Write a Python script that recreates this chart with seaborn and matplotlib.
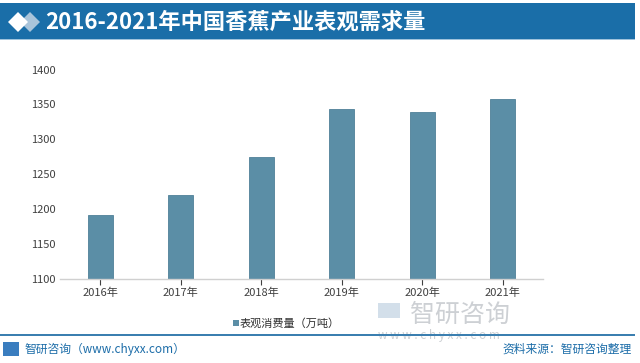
import matplotlib
matplotlib.use("Agg")
import matplotlib.pyplot as plt
import seaborn as sns
import pandas as pd
from matplotlib.patches import Rectangle, Polygon

years = ["2016年", "2017年", "2018年", "2019年", "2020年", "2021年"]
consumption = [1192, 1220, 1275, 1344, 1339, 1358]
y_ticks = [1100, 1150, 1200, 1250, 1300, 1350, 1400]
series_name = "表观消费量（万吨）"
title = "2016-2021年中国香蕉产业表观需求量"

df = pd.DataFrame({"year": years, "value": consumption})

sns.set_theme(style="white")
plt.rcParams['font.family'] = ['Noto Sans CJK SC', 'DejaVu Sans']

W, H = 640, 363
fig = plt.figure(figsize=(W / 100, H / 100), dpi=100)

def fx(px):
    return px / W

def fy(py):
    return 1 - py / H

# banner
fig.patches.append(Rectangle((0, fy(39)), fx(635), fy(3) - fy(39), transform=fig.transFigure,
                             facecolor="#1a6ea8", edgecolor="none", zorder=1))
fig.patches.append(Rectangle((0, fy(40)), fx(635), fy(39) - fy(40), transform=fig.transFigure,
                             facecolor="#9fc3dc", edgecolor="none", zorder=1))
# diamonds
def diamond(cx, cy, r, color):
    pts = [(fx(cx - r), fy(cy)), (fx(cx), fy(cy - r)), (fx(cx + r), fy(cy)), (fx(cx), fy(cy + r))]
    fig.patches.append(Polygon(pts, closed=True, transform=fig.transFigure,
                               facecolor=color, edgecolor="none", zorder=2))
diamond(30, 22, 10, "#a9c4da")
diamond(18, 22, 10, "#ffffff")

fig.text(fx(45), fy(22), title, color="white", fontsize=16, fontweight="bold",
         ha="left", va="center", zorder=3)

# bottom-right brand watermark (behind chart)
fig.text(fx(410), fy(315), "智研咨询", fontsize=18, color="#cdd0d4", ha="left", va="center", zorder=0)
fig.text(fx(378), fy(335), "w w w . c h y x x . c o m", fontsize=8.5, color="#cdd0d4",
         ha="left", va="center", zorder=0)
fig.patches.append(Rectangle((fx(378), fy(318)), fx(22), fy(303) - fy(318), transform=fig.transFigure,
                             facecolor="#d3dfea", edgecolor="none", zorder=0))

# axes
ax = fig.add_axes([fx(60), fy(279.3), fx(543) - fx(60), fy(69.5) - fy(279.3)])
ax.set_facecolor("none")
sns.barplot(data=df, x="year", y="value", color="#5b8ea6", saturation=1, width=0.31,
            ax=ax, edgecolor="#4f8098", linewidth=0.6)
ax.set_ylim(1100, 1400)
ax.set_xlim(-0.5, 5.5)
ax.set_yticks(y_ticks)
ax.set_yticklabels([str(t) for t in y_ticks])
ax.set_xlabel("")
ax.set_ylabel("")
for sp in ["top", "right", "left"]:
    ax.spines[sp].set_visible(False)
ax.spines["bottom"].set_color("#d0d0d0")
ax.spines["bottom"].set_linewidth(1)
ax.tick_params(axis="y", length=0, labelsize=8, labelcolor="#404040", pad=21)
ax.tick_params(axis="x", length=4, width=0.8, color="#404040", direction="out",
               labelsize=8, labelcolor="#404040", pad=2, bottom=True)
for lbl in ax.get_yticklabels():
    lbl.set_horizontalalignment("left")

# legend
fig.patches.append(Rectangle((fx(233), fy(326)), fx(6), fy(320) - fy(326), transform=fig.transFigure,
                             facecolor="#5b8ea6", edgecolor="none", zorder=3))
fig.text(fx(240), fy(323), series_name, fontsize=8, color="#303030", ha="left", va="center")

# bottom line
fig.patches.append(Rectangle((0, fy(336)), fx(635), fy(334) - fy(336), transform=fig.transFigure,
                             facecolor="#3b7fb0", edgecolor="none", zorder=3))

# footer
fig.patches.append(Rectangle((fx(3), fy(356)), fx(16), fy(342) - fy(356), transform=fig.transFigure,
                             facecolor="#3a7dbf", edgecolor="none", zorder=3))
fig.text(fx(24), fy(349), "智研咨询（www.chyxx.com）", fontsize=8.5, color="#1b6ca8",
         ha="left", va="center")
fig.text(fx(632), fy(349), "资料来源：智研咨询整理", fontsize=8.5, color="#1b6ca8",
         ha="right", va="center")

fig.savefig("out.png", dpi=100)
